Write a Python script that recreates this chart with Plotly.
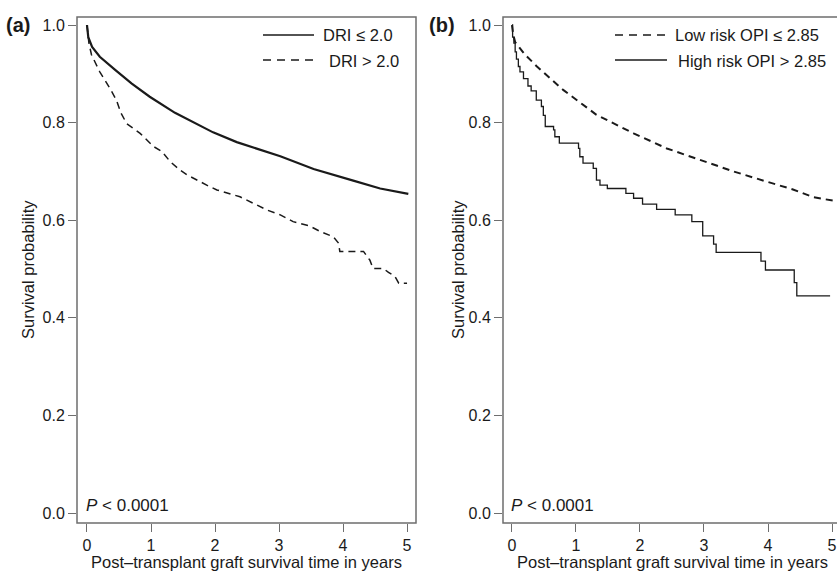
import plotly.graph_objects as go

W, H = 837, 574

# Panel (a): donor risk index
a_low_t = [0, 0.02, 0.08, 0.2, 0.44, 0.7, 0.98, 1.375, 1.97, 2.34, 3.02, 3.54, 4.16, 4.58, 5.02]
a_low_s = [1.0, 0.975, 0.955, 0.935, 0.908, 0.88, 0.853, 0.82, 0.78, 0.76, 0.731, 0.705, 0.681, 0.665, 0.654]

a_high_t = [0, 0.01, 0.03, 0.07, 0.2, 0.36, 0.46, 0.53, 0.62, 0.83, 1.04, 1.17, 1.30, 1.45, 1.56,
            1.87, 2.03, 2.39, 2.6, 2.81, 3.02, 3.22, 3.48, 3.64, 3.85, 3.93, 3.95, 4.32, 4.42,
            4.47, 4.63, 4.71, 4.81, 4.87, 5.0]
a_high_s = [1.0, 0.98, 0.963, 0.939, 0.904, 0.87, 0.846, 0.82, 0.798, 0.778, 0.751, 0.741, 0.72, 0.703, 0.693,
            0.672, 0.662, 0.648, 0.635, 0.621, 0.611, 0.597, 0.588, 0.577, 0.566, 0.553, 0.536, 0.536, 0.518,
            0.501, 0.501, 0.493, 0.485, 0.471, 0.471]

# Panel (b): organ procurement index
b_low_t = [0, 0.02, 0.05, 0.2, 0.39, 0.8, 1.32, 1.9, 2.42, 2.94, 3.46, 3.98, 4.39, 4.71, 5.02]
b_low_s = [1.0, 0.98, 0.965, 0.94, 0.915, 0.867, 0.816, 0.778, 0.747, 0.723, 0.70, 0.679, 0.663, 0.647, 0.64]

b_high_t = [0, 0.01, 0.03, 0.05, 0.07, 0.1, 0.125, 0.18, 0.25, 0.3, 0.38, 0.46, 0.49, 0.52, 0.65, 0.67,
            0.74, 1.04, 1.06, 1.11, 1.27, 1.32, 1.375, 1.49, 1.78, 1.9, 2.04, 2.26, 2.55, 2.81, 2.98,
            3.15, 3.19, 3.89, 3.96, 4.41, 4.45, 4.97]
b_high_s = [1.0, 0.975, 0.963, 0.945, 0.93, 0.915, 0.904, 0.89, 0.875, 0.865, 0.846, 0.833, 0.815, 0.792, 0.785, 0.771,
            0.758, 0.747, 0.730, 0.717, 0.706, 0.682, 0.672, 0.665, 0.655, 0.645, 0.633, 0.622, 0.611, 0.597, 0.568,
            0.551, 0.534, 0.516, 0.498, 0.472, 0.445, 0.445]

y_ticks = [0.0, 0.2, 0.4, 0.6, 0.8, 1.0]
x_ticks = [0, 1, 2, 3, 4, 5]

FONT = "Liberation Sans, Arial, Helvetica, sans-serif"
INK = "#1a1a1a"
BOX = "#6e6e6e"


def px(x):
    return x / W


def py(y):
    return 1 - y / H


fig = go.Figure()
fig.add_trace(go.Scatter(x=a_low_t, y=a_low_s, mode="lines", line=dict(color=INK, width=2.2),
                         xaxis="x", yaxis="y", showlegend=False))
fig.add_trace(go.Scatter(x=a_high_t, y=a_high_s, mode="lines", line=dict(color=INK, width=1.5, dash="7px,5px"),
                         xaxis="x", yaxis="y", showlegend=False))
fig.add_trace(go.Scatter(x=b_low_t, y=b_low_s, mode="lines", line=dict(color=INK, width=2, dash="7px,5px"),
                         xaxis="x2", yaxis="y2", showlegend=False))
fig.add_trace(go.Scatter(x=b_high_t, y=b_high_s, mode="lines", line=dict(color=INK, width=1.3, shape="hv"),
                         xaxis="x2", yaxis="y2", showlegend=False))

ax_common = dict(showgrid=False, zeroline=False, showline=False, ticks="outside", ticklen=8,
                 tickcolor=BOX, tickwidth=1, tickfont=dict(family=FONT, size=16, color=INK))
ydom = [py(523), py(17)]
yr = [(513 - 523) / 488, (513 - 17) / 488]

fig.update_layout(
    width=W, height=H, margin=dict(l=0, r=0, t=0, b=0),
    paper_bgcolor="white", plot_bgcolor="white",
    xaxis=dict(domain=[px(77), px(416)], range=[-0.156, 5.14], tickvals=x_ticks, anchor="y", **ax_common),
    yaxis=dict(domain=ydom, range=yr, tickvals=y_ticks, tickformat=".1f", anchor="x", **ax_common),
    xaxis2=dict(domain=[px(503), 1.0], range=[-0.14, 5.078], tickvals=x_ticks, anchor="y2", **ax_common),
    yaxis2=dict(domain=ydom, range=yr, tickvals=y_ticks, tickformat=".1f", anchor="x2", **ax_common),
)

shapes = [
    dict(type="rect", xref="x domain", yref="y domain", x0=0, x1=1, y0=0, y1=1,
         line=dict(color=BOX, width=1.5), layer="below"),
    dict(type="rect", xref="x2 domain", yref="y2 domain", x0=0, x1=1.05, y0=0, y1=1,
         line=dict(color=BOX, width=1.5), layer="below"),
    # legend keys
    dict(type="line", xref="paper", yref="paper", x0=px(263), x1=px(314), y0=py(35), y1=py(35),
         line=dict(color=INK, width=1.5)),
    dict(type="line", xref="paper", yref="paper", x0=px(263), x1=px(314), y0=py(60), y1=py(60),
         line=dict(color=INK, width=1.3, dash="8px,6px")),
    dict(type="line", xref="paper", yref="paper", x0=px(615), x1=px(667), y0=py(35), y1=py(35),
         line=dict(color=INK, width=1.3, dash="8px,6px")),
    dict(type="line", xref="paper", yref="paper", x0=px(615), x1=px(667), y0=py(60), y1=py(60),
         line=dict(color=INK, width=1.3)),
]
fig.update_layout(shapes=shapes)

txt = dict(family=FONT, size=16.5, color=INK)
ann = [
    dict(text="<b>(a)</b>", x=px(4), y=py(25), xanchor="left", font=dict(family=FONT, size=20, color=INK)),
    dict(text="<b>(b)</b>", x=px(427), y=py(25), xanchor="left", font=dict(family=FONT, size=20, color=INK)),
    dict(text="DRI \u2264 2.0", x=px(321), y=py(35), xanchor="left", font=txt),
    dict(text="DRI > 2.0", x=px(327), y=py(61), xanchor="left", font=txt),
    dict(text="Low risk OPI \u2264 2.85", x=px(673), y=py(35), xanchor="left", font=txt),
    dict(text="High risk OPI > 2.85", x=px(676), y=py(61), xanchor="left", font=txt),
    dict(text="<i>P</i> < 0.0001", x=px(84), y=py(505), xanchor="left", font=dict(family=FONT, size=17, color=INK)),
    dict(text="<i>P</i> < 0.0001", x=px(509), y=py(505), xanchor="left", font=dict(family=FONT, size=17, color=INK)),
    dict(text="Survival probability", x=px(28), y=py(270), textangle=-90, font=txt),
    dict(text="Survival probability", x=px(458), y=py(270), textangle=-90, font=txt),
    dict(text="Post\u2013transplant graft survival time in years", x=px(246.5), y=py(562), font=txt),
    dict(text="Post\u2013transplant graft survival time in years", x=px(672), y=py(562), font=txt),
]
for a in ann:
    a.update(xref="paper", yref="paper", showarrow=False, yanchor="middle")
    a.setdefault("xanchor", "center")
fig.update_layout(annotations=ann)

# the page body has a default 8px margin; drop it so the figure fills the window
fig.write_html("out.html", config={"displayModeBar": False},
               post_script="document.body.style.margin='0';")
